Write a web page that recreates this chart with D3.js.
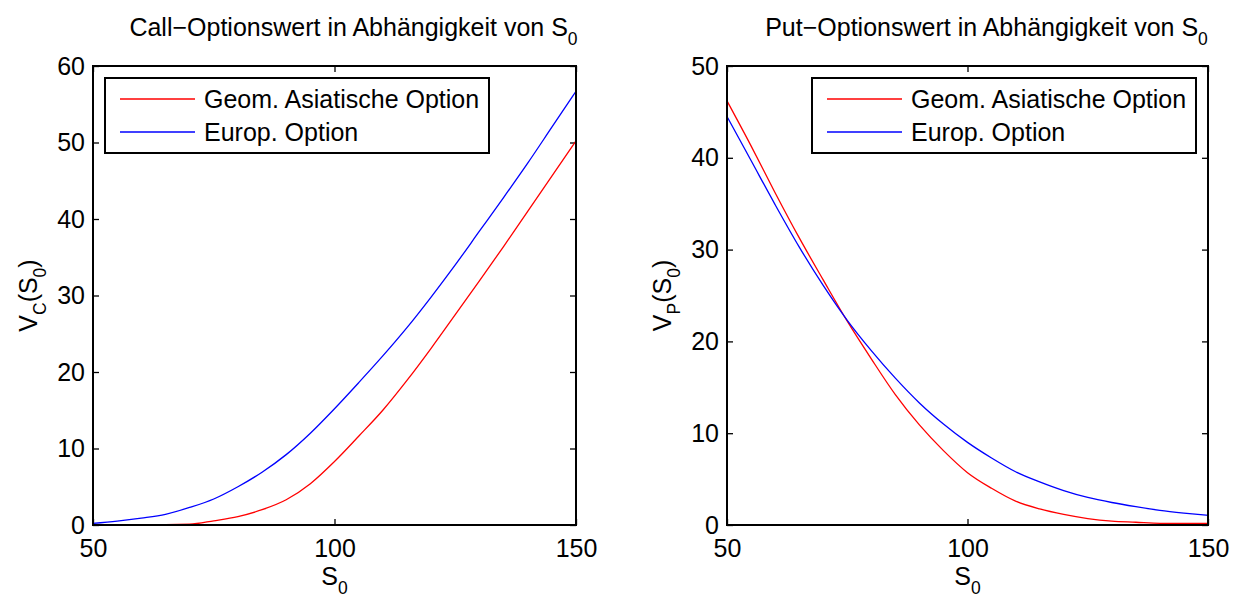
<!DOCTYPE html>
<html>
<head>
<meta charset="utf-8">
<script src="https://cdn.jsdelivr.net/npm/d3@7"></script>
<style>
  body { margin: 0; background: #fff; }
  svg { display: block; }
  text { font-family: "Liberation Sans", Arial, Helvetica, sans-serif; fill: #000; }
</style>
</head>
<body>
<svg id="chart" width="1233" height="597"></svg>
<script>
// Spot prices S0 at which both option values were evaluated
const spotPrices = [50, 55, 60, 65, 70, 75, 80, 85, 90, 95, 100,
                    105, 110, 115, 120, 125, 130, 135, 140, 145, 150];

// Call values
const callAsian = [0.05, 0.05, 0.05, 0.05, 0.1, 0.55, 1.1, 2.0, 3.3, 5.4, 8.3,
                   11.6, 15.0, 18.9, 23.1, 27.5, 31.9, 36.4, 41.0, 45.6, 50.2];
const callEuro  = [0.2, 0.5, 0.9, 1.4, 2.3, 3.4, 5.0, 6.9, 9.2, 12.0, 15.2,
                   18.6, 22.1, 25.8, 29.8, 34.0, 38.4, 42.8, 47.3, 52.0, 56.7];

// Put values
const putAsian = [46.2, 41.3, 36.2, 31.3, 26.7, 22.2, 18.1, 14.2, 10.9, 8.1, 5.7,
                  4.0, 2.6, 1.75, 1.15, 0.7, 0.42, 0.3, 0.18, 0.18, 0.18];
const putEuro  = [44.5, 39.7, 34.9, 30.3, 26.1, 22.3, 19.0, 16.0, 13.3, 11.0, 9.0,
                  7.3, 5.8, 4.7, 3.75, 3.0, 2.45, 2.0, 1.6, 1.3, 1.05];

// Tick values
const spotTicks = [50, 100, 150];
const callTicks = [0, 10, 20, 30, 40, 50, 60];
const putTicks  = [0, 10, 20, 30, 40, 50];

const seriesNames = ["Geom. Asiatische Option", "Europ. Option"];
const seriesColors = ["#ff0000", "#0000ff"];

const svg = d3.select("#chart");
const FONT = 25;

function subscriptText(sel, parts) {
  // parts: array of [string, isSub]
  let shifted = false;
  parts.forEach(([str, isSub]) => {
    const t = sel.append("tspan").text(str);
    if (isSub && !shifted) { t.attr("dy", 9).attr("font-size", FONT * 0.7); shifted = true; }
    else if (isSub) { t.attr("font-size", FONT * 0.7); }
    else if (!isSub && shifted) { t.attr("dy", -9); shifted = false; }
  });
}

function drawPanel(cfg) {
  const x = d3.scaleLinear().domain([50, 150]).range([cfg.left, cfg.right]);
  const y = d3.scaleLinear().domain([0, cfg.yMax]).range([cfg.bottom, cfg.top]);
  const g = svg.append("g");

  // axes with inward ticks on all four sides
  const tickLen = -6;
  const bottomAxis = g.append("g").attr("transform", `translate(0,${cfg.bottom})`)
    .call(d3.axisBottom(x).tickValues(spotTicks).tickFormat(d3.format("d"))
      .tickSizeInner(tickLen).tickSizeOuter(0).tickPadding(14));
  const topAxis = g.append("g").attr("transform", `translate(0,${cfg.top})`)
    .call(d3.axisTop(x).tickValues(spotTicks).tickFormat("")
      .tickSizeInner(tickLen).tickSizeOuter(0));
  const leftAxis = g.append("g").attr("transform", `translate(${cfg.left},0)`)
    .call(d3.axisLeft(y).tickValues(cfg.yTicks).tickFormat(d3.format("d"))
      .tickSizeInner(tickLen).tickSizeOuter(0).tickPadding(8));
  const rightAxis = g.append("g").attr("transform", `translate(${cfg.right},0)`)
    .call(d3.axisRight(y).tickValues(cfg.yTicks).tickFormat("")
      .tickSizeInner(tickLen).tickSizeOuter(0));
  [bottomAxis, topAxis, leftAxis, rightAxis].forEach(a => {
    a.select(".domain").remove();
    a.selectAll(".tick line").attr("stroke", "#000").attr("stroke-width", 1.3);
    a.selectAll(".tick text").attr("font-size", FONT)
      .attr("font-family", "'Liberation Sans', Arial, sans-serif").attr("fill", "#000");
  });

  // curves
  const line = d3.line().curve(d3.curveMonotoneX)
    .x((d, i) => x(spotPrices[i])).y(d => y(d));
  cfg.series.forEach((vals, k) => {
    g.append("path").datum(vals).attr("d", line)
      .attr("fill", "none").attr("stroke", seriesColors[k]).attr("stroke-width", 1.3);
  });

  // frame
  g.append("rect").attr("x", cfg.left).attr("y", cfg.top)
    .attr("width", cfg.right - cfg.left).attr("height", cfg.bottom - cfg.top)
    .attr("fill", "none").attr("stroke", "#000").attr("stroke-width", 2);

  // legend
  const lg = g.append("g").attr("transform", `translate(${cfg.legendX},${cfg.top + 12})`);
  lg.append("rect").attr("width", 384).attr("height", 75)
    .attr("fill", "#fff").attr("stroke", "#000").attr("stroke-width", 2);
  seriesNames.forEach((name, k) => {
    const cy = 21 + k * 33;
    lg.append("line").attr("x1", 15).attr("x2", 90).attr("y1", cy).attr("y2", cy)
      .attr("stroke", seriesColors[k]).attr("stroke-width", 1.3);
    lg.append("text").attr("x", 99).attr("y", cy + 9).attr("font-size", FONT).text(name);
  });

  // title
  const title = g.append("text").attr("x", (cfg.left + cfg.right) / 2 + 19).attr("y", 36)
    .attr("text-anchor", "middle").attr("font-size", FONT);
  subscriptText(title, [[cfg.title, false], ["0", true]]);

  // x label
  const xl = g.append("text").attr("x", (cfg.left + cfg.right) / 2).attr("y", 585)
    .attr("text-anchor", "middle").attr("font-size", FONT);
  subscriptText(xl, [["S", false], ["0", true]]);

  // y label
  const yl = g.append("text")
    .attr("transform", `translate(${cfg.yLabelX},${(cfg.top + cfg.bottom) / 2}) rotate(-90)`)
    .attr("text-anchor", "middle").attr("font-size", FONT);
  subscriptText(yl, [["V", false], [cfg.ySub, true], ["(S", false], ["0", true], [")", false]]);
}

drawPanel({
  left: 93, right: 576, top: 66, bottom: 525, yMax: 60, yTicks: callTicks,
  series: [callAsian, callEuro], legendX: 105,
  title: "Call\u2212Optionswert in Abh\u00e4ngigkeit von S", ySub: "C", yLabelX: 37
});
drawPanel({
  left: 727, right: 1208, top: 66, bottom: 525, yMax: 50, yTicks: putTicks,
  series: [putAsian, putEuro], legendX: 812,
  title: "Put\u2212Optionswert in Abh\u00e4ngigkeit von S", ySub: "P", yLabelX: 671
});
</script>
</body>
</html>
